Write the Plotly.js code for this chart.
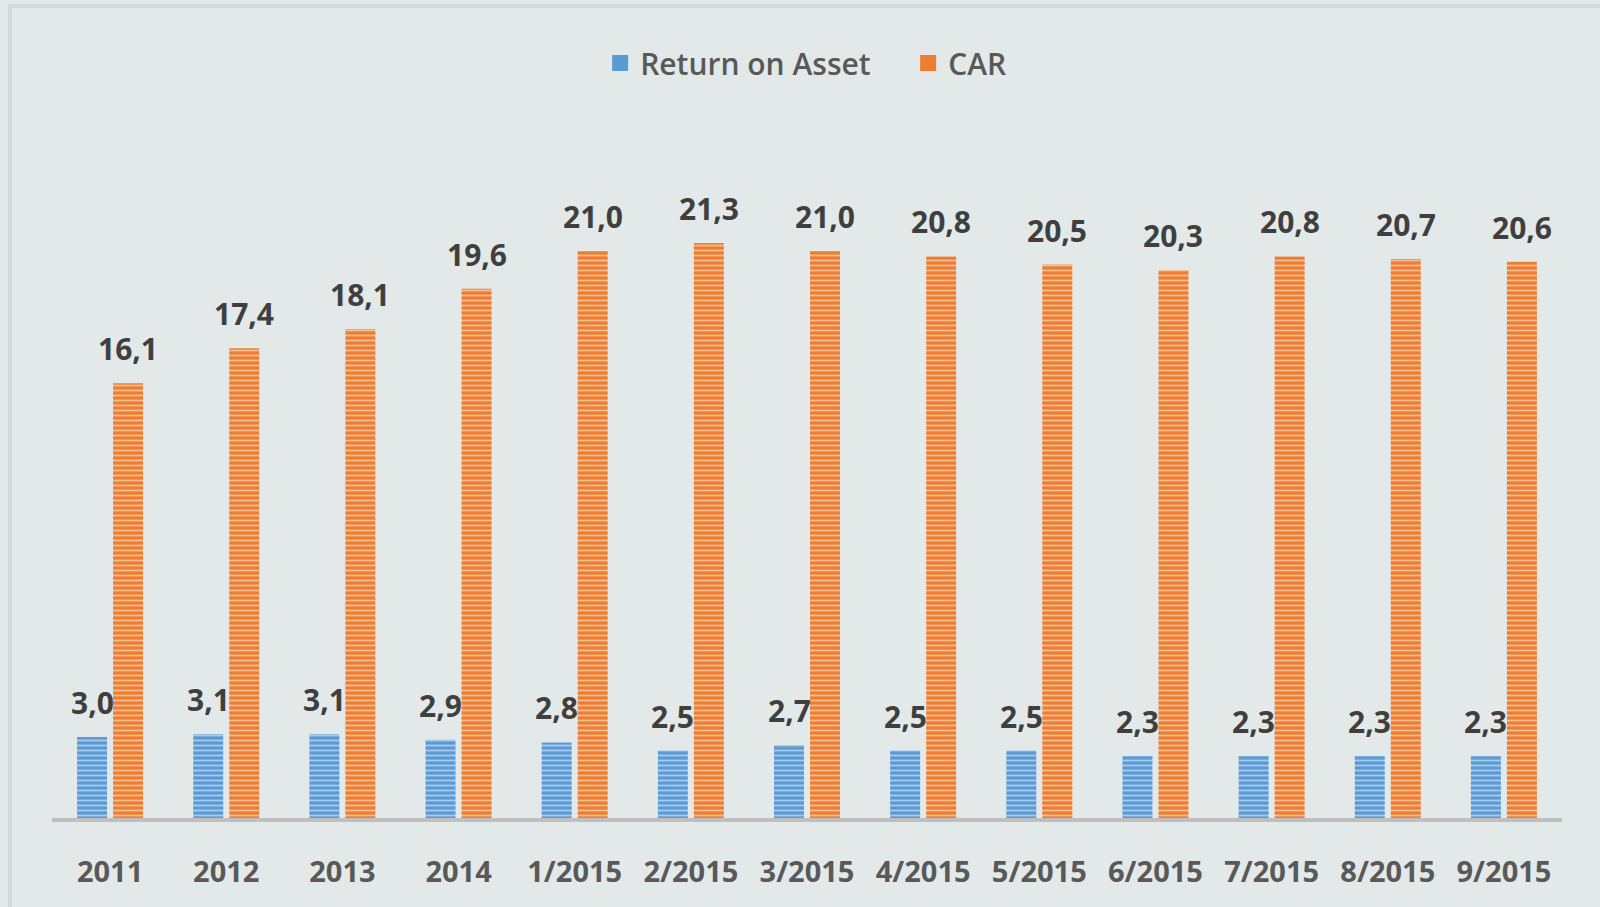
<!DOCTYPE html>
<html>
<head>
<meta charset="utf-8">
<script src="https://cdn.plot.ly/plotly-3.0.1.min.js"></script>
<style>
  body { margin: 0; background: #e3e9e9; }
  #chart { margin: 4px 0 0 8px; border-top: 4px solid #d5d9d9; border-left: 4px solid #d5d9d9; width: 1588px; height: 899px; }
</style>
</head>
<body>
<div id="chart"></div>
<script>
var periods = ["2011", "2012", "2013", "2014", "1/2015", "2/2015", "3/2015", "4/2015", "5/2015", "6/2015", "7/2015", "8/2015", "9/2015"];
var roa = [3.0, 3.1, 3.1, 2.9, 2.8, 2.5, 2.7, 2.5, 2.5, 2.3, 2.3, 2.3, 2.3];
var car = [16.1, 17.4, 18.1, 19.6, 21.0, 21.3, 21.0, 20.8, 20.5, 20.3, 20.8, 20.7, 20.6];

var blue = "#5b9bd5", orange = "#ed7d31";
var labelFont = {family: "Open Sans", size: 30, color: "#3f3f3f", weight: 700};

var roaTrace = {
    x: periods,
    y: roa,
    name: "Return on Asset",
    type: "bar",
    showlegend: false,
    marker: {
        color: blue,
        line: {width: 0},
        pattern: {shape: "-", fgcolor: "#a8cbee", bgcolor: blue, size: 5, solidity: 0.35}
    },
    hoverinfo: "none"
};

var carTrace = {
    x: periods,
    y: car,
    name: "CAR",
    type: "bar",
    showlegend: false,
    marker: {
        color: orange,
        line: {width: 0},
        pattern: {shape: "-", fgcolor: "#f8bd93", bgcolor: orange, size: 5, solidity: 0.35}
    },
    hoverinfo: "none"
};

// legend-only entries so the legend squares can be larger than bar swatches
var roaKey = {x: [null], y: [null], name: "Return on Asset", type: "scatter", mode: "markers",
    marker: {symbol: "square", size: 16, color: blue}, hoverinfo: "none"};
var carKey = {x: [null], y: [null], name: "CAR", type: "scatter", mode: "markers",
    marker: {symbol: "square", size: 16, color: orange}, hoverinfo: "none"};

// value labels sit higher than plotly's "outside" text, so use annotations
// (x given as category index: "2011" would otherwise be read as a number)
var annotations = [];
periods.forEach(function (p, i) {
    annotations.push({x: i, y: roa[i], text: roa[i].toFixed(1).replace(".", ","), showarrow: false,
        xanchor: "center", yanchor: "bottom", xshift: -18, yshift: 12, font: labelFont});
    annotations.push({x: i, y: car[i], text: car[i].toFixed(1).replace(".", ","), showarrow: false,
        xanchor: "center", yanchor: "bottom", xshift: 18, yshift: 12, font: labelFont});
});

var layout = {
    width: 1588,
    height: 899,
    margin: {l: 40, r: 38, t: 135, b: 89},
    paper_bgcolor: "#e3e9e9",
    plot_bgcolor: "#e3e9e9",
    barmode: "group",
    bargap: 0.38,
    bargroupgap: 0.167,
    separators: ", ",
    showlegend: true,
    legend: {
        orientation: "h",
        x: 0.363, xanchor: "left",
        y: 1.1185, yanchor: "middle",
        entrywidth: 263,
        font: {family: "Open Sans", size: 30, color: "#595959", weight: 600},
        itemwidth: 30,
        bgcolor: "rgba(0,0,0,0)"
    },
    xaxis: {
        type: "category",
        range: [-0.5, periods.length - 0.5],
        showgrid: false,
        showline: true,
        linecolor: "#bfbfbf",
        linewidth: 4,
        ticks: "",
        ticklabelstandoff: 25,
        tickfont: {family: "Open Sans", size: 29, color: "#595959", weight: 700},
        fixedrange: true
    },
    yaxis: {
        range: [0, 25],
        visible: false,
        showgrid: false,
        zeroline: false,
        fixedrange: true
    },
    annotations: annotations
};

Plotly.newPlot("chart", [roaTrace, carTrace, roaKey, carKey], layout, {displayModeBar: false, staticPlot: true});
</script>
</body>
</html>
